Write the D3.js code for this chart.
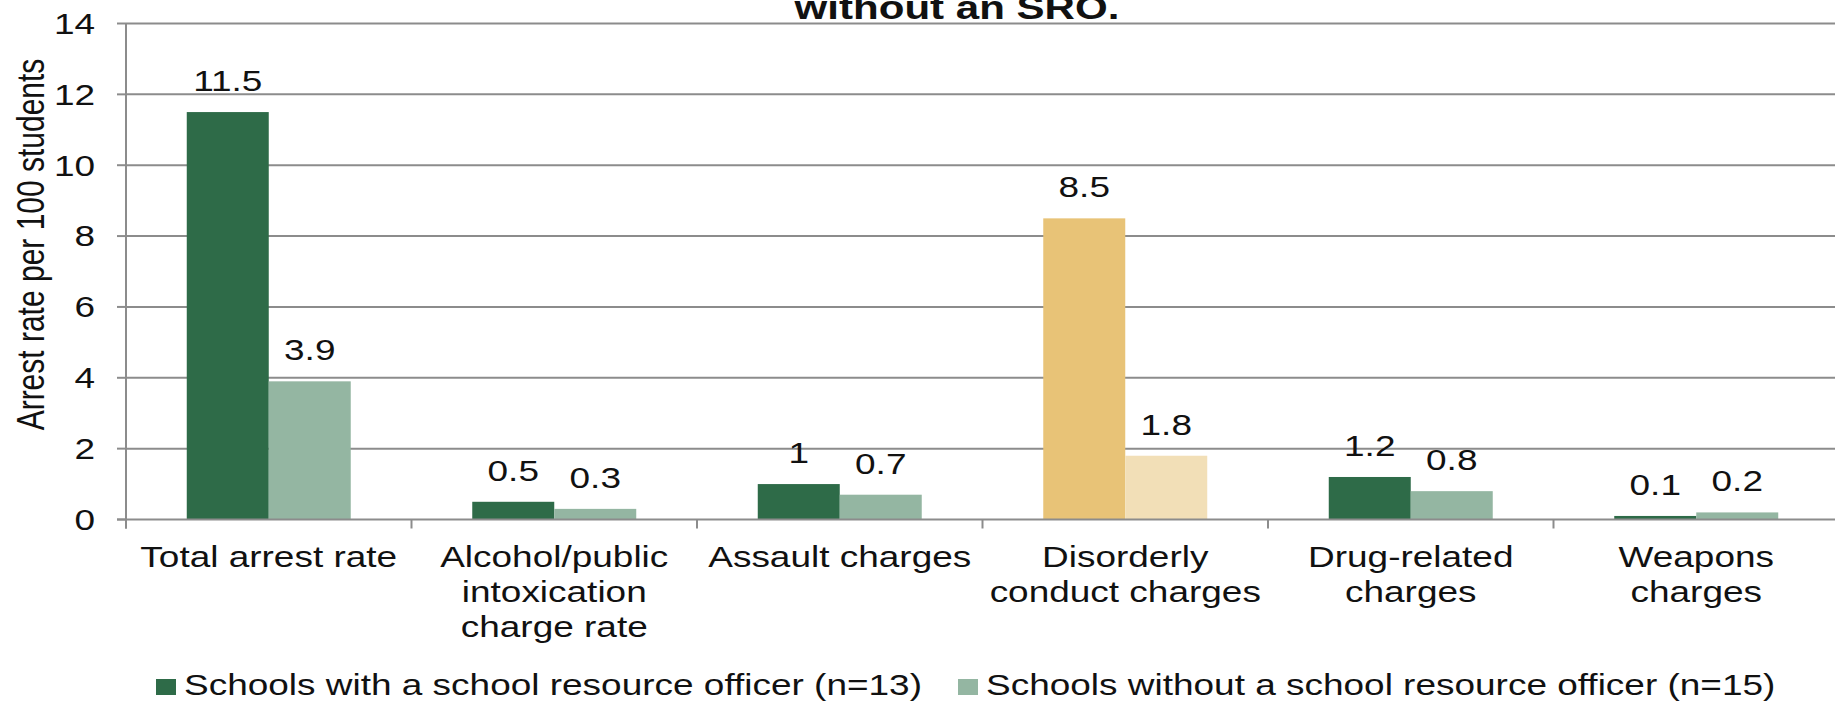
<!DOCTYPE html>
<html>
<head>
<meta charset="utf-8">
<script src="https://cdn.jsdelivr.net/npm/d3@7"></script>
<style>
  html, body { margin: 0; padding: 0; background: #fff; }
  svg { display: block; }
  text { font-family: "Liberation Sans", Arial, sans-serif; fill: #111; }
</style>
</head>
<body>
<svg id="chart" width="1835" height="702"></svg>
<script>
// ---- data ----
const categories = ["Total arrest rate", "Alcohol/public intoxication charge rate", "Assault charges",
                    "Disorderly conduct charges", "Drug-related charges", "Weapons charges"];
const categoryLines = [["Total arrest rate"], ["Alcohol/public", "intoxication", "charge rate"], ["Assault charges"],
                       ["Disorderly", "conduct charges"], ["Drug-related", "charges"], ["Weapons", "charges"]];
const seriesNames = ["Schools with a school resource officer (n=13)", "Schools without a school resource officer (n=15)"];
const withSRO = [11.5, 0.5, 1, 8.5, 1.2, 0.1];
const withoutSRO = [3.9, 0.3, 0.7, 1.8, 0.8, 0.2];
const valueLabels = [["11.5", "3.9"], ["0.5", "0.3"], ["1", "0.7"], ["8.5", "1.8"], ["1.2", "0.8"], ["0.1", "0.2"]];
const yTicks = [0, 2, 4, 6, 8, 10, 12, 14];
const highlighted = ["Disorderly conduct charges"];
const titleText = "without an SRO.";
const yAxisTitle = "Arrest rate per 100 students";

// ---- styles ----
const SX = 1.275;           // horizontal stretch of the original picture
const colors = ["#2e6b48", "#94b6a2"];
const hiColors = ["#e8c377", "#f2dfb7"];
const gridColor = "#8c8c8c";

const svg = d3.select("#chart");
const W = 1835;
const y = d3.scaleLinear().domain([0, 14]).range([519.5, 23.5]);
const x0 = d3.scaleBand().domain(categories).range([126, 126 + 6 * 285.5]).paddingInner(0).paddingOuter(0);
const x1 = d3.scaleBand().domain([0, 1]).range([0, x0.bandwidth()]).paddingInner(0).paddingOuter(0.741);

function stext(parent, tx, ty, str, anchor, size, weight, extra) {
  return parent.append("text")
    .attr("transform", `translate(${tx},${ty}) scale(${SX},1)` + (extra || ""))
    .attr("text-anchor", anchor)
    .style("font-size", size + "px")
    .style("font-weight", weight || "normal")
    .text(str);
}

// gridlines
svg.append("g").selectAll("line").data(yTicks.filter(d => d > 0)).join("line")
  .attr("x1", 126).attr("x2", W)
  .attr("y1", d => y(d)).attr("y2", d => y(d))
  .attr("stroke", gridColor).attr("stroke-width", 2);

// bars
const groups = svg.append("g").selectAll("g").data(categories).join("g")
  .attr("transform", d => `translate(${x0(d)},0)`);
groups.each(function(cat, i) {
  const g = d3.select(this);
  const vals = [withSRO[i], withoutSRO[i]];
  const pal = highlighted.includes(cat) ? hiColors : colors;
  vals.forEach((v, s) => {
    g.append("rect")
      .attr("x", x1(s)).attr("width", x1.bandwidth())
      .attr("y", y(v)).attr("height", y(0) - y(v))
      .attr("fill", pal[s]);
    stext(g, x1(s) + x1.bandwidth() / 2, y(v) - 21, valueLabels[i][s], "middle", 29);
  });
});

// y axis line + ticks
svg.append("line").attr("x1", 126).attr("x2", 126).attr("y1", y(14)).attr("y2", y(0) + 9)
  .attr("stroke", gridColor).attr("stroke-width", 2);
svg.append("g").selectAll("line").data(yTicks).join("line")
  .attr("x1", 117).attr("x2", 126)
  .attr("y1", d => y(d)).attr("y2", d => y(d))
  .attr("stroke", gridColor).attr("stroke-width", 2);
const yl = svg.append("g");
yTicks.forEach(t => stext(yl, 95, y(t) + 10.4, String(t), "end", 29));

// x axis baseline + ticks
svg.append("line").attr("x1", 117).attr("x2", W).attr("y1", y(0)).attr("y2", y(0))
  .attr("stroke", gridColor).attr("stroke-width", 2);
svg.append("g").selectAll("line").data(categories).join("line")
  .attr("x1", d => x0(d)).attr("x2", d => x0(d))
  .attr("y1", y(0)).attr("y2", y(0) + 9)
  .attr("stroke", gridColor).attr("stroke-width", 2);

// category labels
const xl = svg.append("g");
categories.forEach((c, i) => {
  categoryLines[i].forEach((line, k) => {
    stext(xl, x0(c) + x0.bandwidth() / 2, 567 + k * 35, line, "middle", 29);
  });
});

// y axis title
stext(svg, 43.5, 244.5, yAxisTitle, "middle", 30, "normal", " rotate(-90)");

// title (last visible line)
stext(svg, 957, 19, titleText, "middle", 33, "bold");

// legend
const legendX = [156, 958];
const lg = svg.append("g");
seriesNames.forEach((name, s) => {
  lg.append("rect").attr("x", legendX[s]).attr("y", 679).attr("width", 20).attr("height", 16).attr("fill", colors[s]);
  stext(lg, legendX[s] + 28, 695, name, "start", 29);
});
</script>
</body>
</html>
